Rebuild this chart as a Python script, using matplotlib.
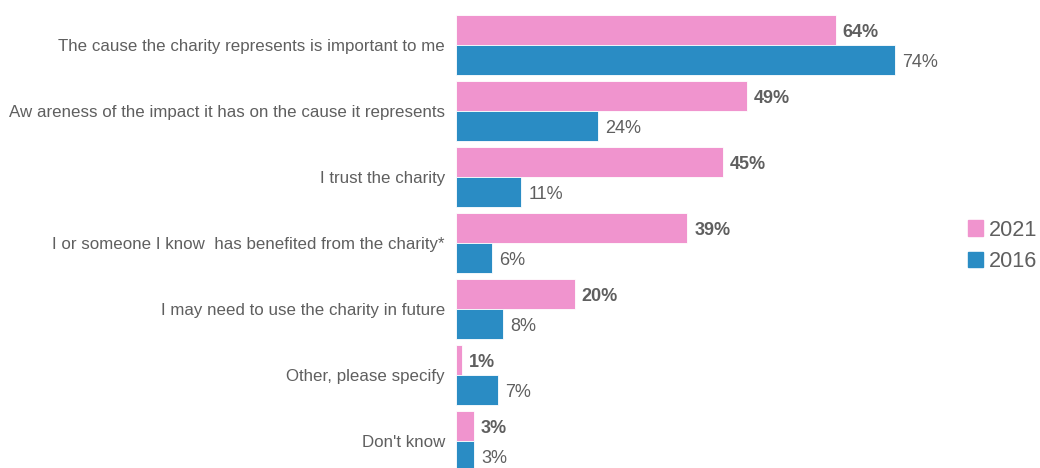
import numpy as np
import matplotlib
matplotlib.use('Agg')
import matplotlib.pyplot as plt
from matplotlib.patches import Patch

categories = [
    'The cause the charity represents is important to me',
    'Aw areness of the impact it has on the cause it represents',
    'I trust the charity',
    'I or someone I know  has benefited from the charity*',
    'I may need to use the charity in future',
    'Other, please specify',
    "Don't know",
]
values_2021 = [64, 49, 45, 39, 20, 1, 3]
values_2016 = [74, 24, 11, 6, 8, 7, 3]
series_names = ['2021', '2016']

pink = '#F094CE'
blue = '#2A8CC4'
grey = '#5F5F5F'

plt.rcParams['font.family'] = ['Liberation Sans', 'DejaVu Sans']

fig = plt.figure(figsize=(10.4, 4.68), dpi=100)
ax = fig.add_axes([456 / 1040, 0, 584 / 1040, 1])

y = np.arange(len(categories))
h = 0.447

bars21 = ax.barh(y - h / 2, values_2021, height=h, color=pink,
                 edgecolor='white', linewidth=0.6)
bars16 = ax.barh(y + h / 2, values_2016, height=h, color=blue,
                 edgecolor='white', linewidth=0.6)

for b, v in zip(bars21, values_2021):
    ax.text(b.get_width() + 1.2, b.get_y() + b.get_height() / 2 + 0.04,
            f'{v}%', va='center', ha='left', fontsize=13,
            fontweight='bold', color=grey)
for b, v in zip(bars16, values_2016):
    ax.text(b.get_width() + 1.2, b.get_y() + b.get_height() / 2 + 0.04,
            f'{v}%', va='center', ha='left', fontsize=13, color=grey)

ax.set_xlim(0, 584 / 5.93)
ax.set_ylim(423 / 66, -45 / 66)
ax.set_yticks(y)
ax.set_yticklabels(categories, fontsize=12.2, color=grey)
ax.tick_params(axis='y', length=0, pad=8)
ax.set_xticks([])
for s in ax.spines.values():
    s.set_visible(False)

handles = [Patch(color=pink), Patch(color=blue)]
ax.legend(handles, series_names, loc='center left',
          bbox_to_anchor=((968 - 456) / 584, 1 - 246 / 468),
          frameon=False, fontsize=15.6, handlelength=0.7, handleheight=0.7,
          handletextpad=0.25, labelspacing=0.5, labelcolor=grey,
          borderaxespad=0, borderpad=0)

fig.savefig('out.png', dpi=100)
